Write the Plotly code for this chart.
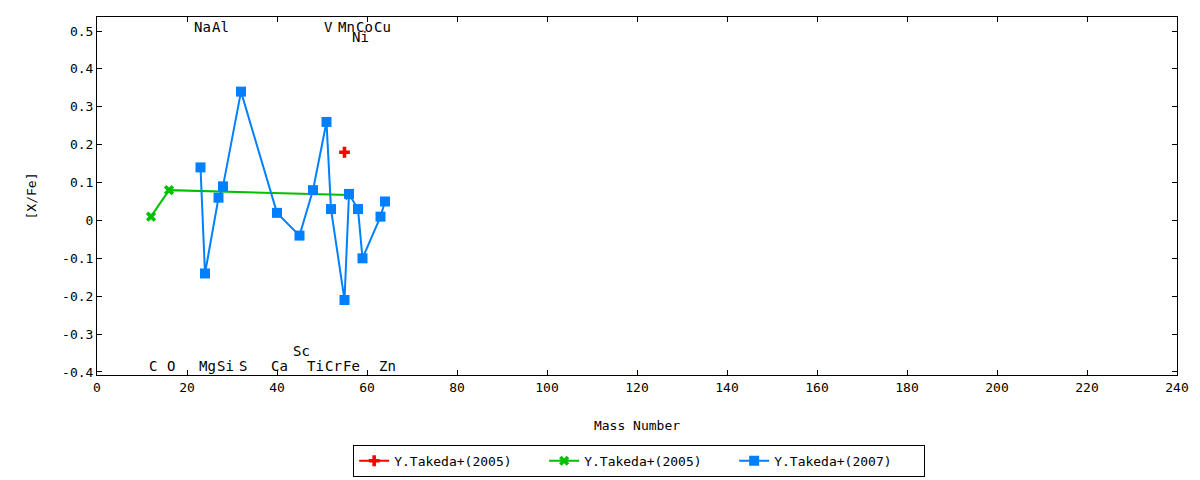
import plotly.graph_objects as go

# Y.Takeda+(2005) : Mn
red_x = [55]
red_y = [0.18]

# Y.Takeda+(2005) : C, O, Fe
green_x = [12, 16, 56]
green_y = [0.01, 0.08, 0.067]

# Y.Takeda+(2007)
blue_x = [23, 24, 27, 28, 32, 40, 45, 48, 51, 52, 55, 56, 58, 59, 63, 64]
blue_y = [0.14, -0.14, 0.06, 0.09, 0.34, 0.02, -0.04, 0.08, 0.26, 0.03,
          -0.21, 0.07, 0.03, -0.10, 0.01, 0.05]

# 目盛り
y_tickvals = [-0.4, -0.3, -0.2, -0.1, 0, 0.1, 0.2, 0.3, 0.4, 0.5]
y_ticktext = ["-0.4", "-0.3", "-0.2", "-0.1", "0", "0.1", "0.2", "0.3", "0.4", "0.5"]

# 元素ラベル (名前, 質量数, y位置)
elem_names = ["C", "O", "Na", "Mg", "Al", "Si", "S", "Ca", "Sc", "Ti",
              "V", "Cr", "Mn", "Fe", "Co", "Ni", "Cu", "Zn"]
elem_mass = [12, 16, 23, 24, 27, 28, 32, 40, 45, 48,
             51, 52, 55, 56, 59, 58, 63, 64]
elem_y = [-0.385, -0.385, 0.51, -0.385, 0.51, -0.385, -0.385, -0.385, -0.345, -0.385,
          0.51, -0.385, 0.51, -0.385, 0.51, 0.483, 0.51, -0.385]

font = "DejaVu Sans Mono"

fig = go.Figure()

fig.add_trace(go.Scatter(
    x=red_x, y=red_y, mode="lines+markers", name="Y.Takeda+(2005)",
    line=dict(color="#ff0000", width=2),
    marker=dict(symbol="cross", size=9, color="#ff0000")
))
fig.add_trace(go.Scatter(
    x=green_x, y=green_y, mode="lines+markers", name="Y.Takeda+(2005)",
    line=dict(color="#00c000", width=2),
    marker=dict(symbol="x", size=9, color="#00c000")
))
fig.add_trace(go.Scatter(
    x=blue_x, y=blue_y, mode="lines+markers", name="Y.Takeda+(2007)",
    line=dict(color="#0080ff", width=2),
    marker=dict(symbol="square", size=10, color="#0080ff")
))

for n, m, yy in zip(elem_names, elem_mass, elem_y):
    fig.add_annotation(x=m + 0.5, y=yy, text=n, showarrow=False,
                       xanchor="center", yanchor="middle",
                       font=dict(family=font, size=14, color="black"))

axis_style = dict(
    showline=True, linecolor="black", linewidth=1, mirror="ticks",
    ticks="inside", ticklen=5, tickcolor="black",
    showgrid=False, zeroline=False, automargin=False,
    tickfont=dict(family=font, size=13, color="black"),
)

fig.update_xaxes(range=[0, 240], dtick=20,
                 title=dict(text="Mass Number", font=dict(family=font, size=13), standoff=27),
                 **axis_style)
fig.update_yaxes(range=[-0.408, 0.537], tickmode="array",
                 tickvals=y_tickvals, ticktext=y_ticktext,
                 title=dict(text="[X/Fe]", font=dict(family=font, size=13), standoff=22),
                 **axis_style)

fig.update_layout(
    width=1200, height=480,
    plot_bgcolor="white", paper_bgcolor="white",
    margin=dict(l=97, r=23, t=17, b=105),
    font=dict(family=font, size=13, color="black"),
    legend=dict(orientation="h", x=0.502, xanchor="center",
                yref="container", y=0.04, yanchor="middle",
                bordercolor="black", borderwidth=1, tracegroupgap=0,
                entrywidth=145, font=dict(family=font, size=13)),
)

# ページ余白を消す
fig.write_html("out.html", config={"displayModeBar": False},
               post_script="document.body.style.margin='0px';")
